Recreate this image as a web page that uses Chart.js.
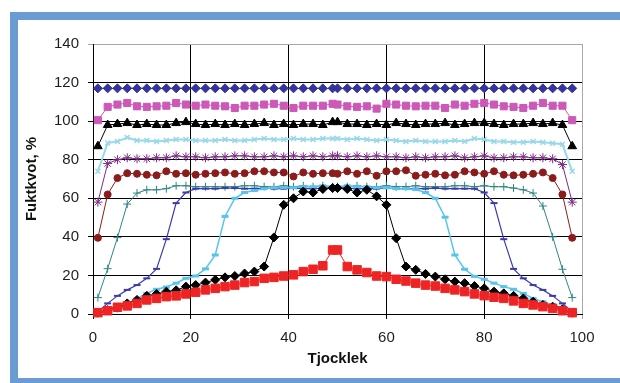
<!DOCTYPE html>
<html>
<head>
<meta charset="utf-8">
<script src="https://cdn.jsdelivr.net/npm/chart.js@4.4.0/dist/chart.umd.min.js"></script>
<style>
    html, body { margin: 0; padding: 0; width: 620px; height: 383px; overflow: hidden; background: #fff; }
    #frame {
        position: absolute; left: 10px; top: 12px; width: 660px; height: 374px;
        box-sizing: border-box; border: 8px solid #6a9bd2; background: #fff;
    }
    #wrap { position: absolute; left: 0; top: 0; width: 620px; height: 383px; }
</style>
</head>
<body>
<div id="frame"></div>
<div id="wrap"><canvas id="moistChart" width="620" height="383"></canvas></div>
<script>
// Thickness positions (x) shared by all series
const thickness = [1, 3, 5, 7, 9, 11, 13, 15, 17, 19, 21, 23, 25, 27, 29, 31, 33, 35, 37, 39, 41, 43, 45, 47, 49,
    50, 52, 54, 56, 58, 60, 62, 64, 66, 68, 70, 72, 74, 76, 78, 80, 82, 84, 86, 88, 90, 92, 94, 96, 98];

const xTicks = [0, 20, 40, 60, 80, 100];
const yTicks = [0, 20, 40, 60, 80, 100, 120, 140];

// Moisture ratio (%) per curve
const navySeries = [117, 117, 117, 117, 117, 117, 117, 117, 117, 117, 117, 117, 117, 117, 117, 117, 117, 117, 117, 117, 117, 117, 117, 117, 117,
    117, 117, 117, 117, 117, 117, 117, 117, 117, 117, 117, 117, 117, 117, 117, 117, 117, 117, 117, 117, 117, 117, 117, 117, 117];
const magentaSeries = [100.5, 107.4, 108.6, 109.4, 107.7, 107.4, 107.7, 108, 109.4, 108.6, 108, 108.6, 108, 107.7, 106.8, 108, 108, 108.6, 109, 108, 106.8, 108, 108, 108, 109,
    108.6, 107.7, 107.4, 107.7, 106.5, 109, 108.6, 108, 107.7, 108, 108, 106.8, 108.6, 108, 109, 109.4, 108.6, 107.7, 107.4, 106.8, 108, 109.4, 108, 108, 100.5];
const triangleSeries = [87, 98, 98.5, 99, 98, 98.5, 98, 98, 99, 99.5, 98.5, 98, 98.5, 98, 98.5, 98, 98.5, 99, 98, 98.5, 98, 98.5, 98.5, 98, 99.5,
    99.5, 98.5, 98.5, 98, 98.5, 98, 99, 98.5, 98, 98.5, 98.5, 99, 98, 98.5, 99, 99, 98.5, 98, 98.5, 98.5, 99, 98.5, 99, 98, 87];
const cyanSeries = [74, 88.7, 89.5, 91.5, 90, 90, 89.5, 90, 90.5, 90.5, 90, 90, 90, 90.5, 90, 90, 90.5, 91, 90.5, 90.5, 91, 90.5, 90.5, 91, 91,
    91, 90.5, 91, 90.5, 90, 90.5, 90, 89.5, 90, 89.5, 89.5, 89.5, 90, 89.5, 91, 90.5, 89.5, 89.5, 89, 89, 89.5, 89, 88.5, 88, 74];
const purpleSeries = [58, 78, 80, 81, 80.5, 80.5, 81, 81, 82, 81.5, 81.5, 81, 81.5, 81.5, 82, 82, 81.5, 81.5, 82, 81.5, 82, 81.5, 82, 81.5, 82,
    82, 81.5, 82, 81.5, 82, 81.5, 81.5, 81, 81.5, 81, 81.5, 81.5, 82, 81, 81.5, 82, 81, 81, 81.5, 81.5, 81, 81, 80.5, 77.5, 58];
const maroonSeries = [39.5, 62, 70.5, 73, 72.7, 72.2, 71.9, 74, 72.7, 73, 72.2, 72.7, 73, 73.4, 72.7, 73, 74, 74, 73.4, 73.4, 71.3, 73.4, 72.7, 73, 73,
    72.7, 74, 72.7, 74, 71.7, 74, 74, 74.5, 71.7, 72.2, 72.7, 71.9, 72.2, 74, 73.4, 72.7, 74, 72.2, 71.9, 72.2, 72.7, 73.4, 70.5, 62, 39.5];
const tealSeries = [8.5, 23.5, 39.6, 57, 62.7, 64.4, 64.4, 65, 66.5, 66.5, 66, 66, 66, 66, 66, 66.5, 66.5, 66, 66, 66.5, 66, 66.5, 66, 66.5, 66,
    66, 66, 66.5, 66, 66, 66.5, 66, 66, 66.5, 66, 66, 66, 66.5, 66.5, 66, 66.5, 66, 66, 65.3, 64.4, 62.7, 56, 40, 23.2, 8.5];
const blueSeries = [1.2, 5.5, 9.4, 12.5, 15, 18.5, 23.4, 38.8, 57.5, 63, 65, 65, 65, 65.3, 65.3, 65, 65, 65.3, 65, 65, 65.3, 65, 65, 65.3, 65.5,
    65.5, 65.3, 65, 65, 65, 65.3, 65, 65, 65, 65, 65.3, 65, 65, 65, 65, 63, 57.5, 38.8, 23.4, 18.5, 15, 12.5, 9.4, 5.5, 1.2];
const skySeries = [0.7, 2, 4, 5.5, 8, 10.7, 12.8, 14, 16, 18.5, 19.7, 23.4, 30.6, 50.6, 60, 63, 64, 65, 65.5, 65.5, 65.5, 66, 66, 66.5, 66,
    66, 66.5, 66, 66, 65.5, 65.5, 65, 65, 64.5, 63, 60, 50.2, 30.6, 23.2, 19.5, 18, 16, 14.2, 12.8, 10.7, 8.1, 6.4, 4.7, 2.4, 0.7];
const diamondSeries = [0.7, 2, 3.3, 5.5, 7.3, 9.4, 10.4, 11.6, 12.3, 14.2, 15, 16.3, 17.7, 19, 19.7, 21, 22, 24.6, 39.7, 56.6, 60, 63.5, 63, 64.8, 65.3,
    65.3, 64.8, 63, 64.4, 61, 56.6, 39.3, 24.6, 22.9, 20.8, 19.4, 18, 16.8, 16, 14.5, 13.3, 11.6, 10.7, 9.4, 8.1, 6.4, 4.7, 3.8, 2.4, 0.7];
const redSeries = [0.7, 1.7, 3.5, 4.2, 5.5, 7.3, 8.1, 9, 9.4, 10.4, 11.3, 12.5, 13.3, 14.2, 15, 16.3, 16.8, 18.5, 19, 19.7, 20.3, 22, 23.2, 25, 33.2,
    33.2, 24.6, 22.9, 21.5, 19.7, 19.4, 18, 17.1, 16, 15, 14.5, 13.3, 12.5, 11.6, 10.4, 9.5, 8.7, 8.1, 6.8, 5.5, 4.7, 3.8, 2.9, 1.7, 0.7];

document.addEventListener('DOMContentLoaded', function() {
    const toPoints = values => values.map((v, i) => ({x: thickness[i], y: v}));

    // one entry per curve: values, colour, marker, marker radius, line width, marker border
    const curves = [
        [navySeries, '#34349a', 'rectRot', 4.5, 1, 1],
        [magentaSeries, '#cc58b8', 'rect', 5, 1, 1],
        [triangleSeries, '#000000', 'triangle', 5, 1, 1],
        [cyanSeries, '#98d8ea', 'crossRot', 3.5, 2, 1.5],
        [purpleSeries, '#7e2a86', 'star', 4.5, 1, 1],
        [maroonSeries, '#8c1c1c', 'circle', 3.5, 1, 1],
        [tealSeries, '#2e8585', 'cross', 4, 1, 1],
        [blueSeries, '#3b3bab', 'line', 3.5, 1.2, 2],
        [skySeries, '#58c4ee', 'line', 3.5, 1.5, 3],
        [diamondSeries, '#000000', 'rectRot', 4.5, 1, 1],
        [redSeries, '#ee2424', 'rect', 6, 1, 1]
    ];

    const datasets = curves.map((c, i) => ({
        data: toPoints(c[0]),
        borderColor: c[1],
        backgroundColor: c[1],
        pointBackgroundColor: c[1],
        pointBorderColor: c[1],
        pointStyle: c[2],
        pointRadius: c[3],
        borderWidth: c[4],
        pointBorderWidth: c[5],
        tension: 0,
        clip: false,
        order: curves.length - i
    }));

    const font = {family: '"Liberation Sans", Arial, sans-serif', size: 15};
    const titleFont = {family: '"Liberation Sans", Arial, sans-serif', size: 15, weight: 'bold'};

    const ctx = document.getElementById('moistChart').getContext('2d');
    const moistChart = new Chart(ctx, {
        type: 'line',
        data: { datasets: datasets },
        options: {
            responsive: false,
            animation: false,
            layout: { padding: { left: 20, right: 38, top: 44, bottom: 12 } },
            plugins: { legend: { display: false }, tooltip: { enabled: false } },
            scales: {
                x: {
                    type: 'linear',
                    min: 0,
                    max: 100,
                    afterBuildTicks: scale => { scale.ticks = xTicks.map(v => ({value: v})); },
                    afterFit: scale => { scale.height = 57; },
                    grid: {
                        color: c => c.tick && c.tick.value === 100 ? '#a8a8a8' : '#000',
                        lineWidth: 1,
                        tickLength: 5
                    },
                    border: { color: '#000', width: 1 },
                    ticks: { color: '#1e1e1e', font: font, padding: 10, maxRotation: 0 },
                    title: { display: true, text: 'Tjocklek', color: '#111', font: titleFont, padding: { top: 0, bottom: 3 } }
                },
                y: {
                    min: 0,
                    max: 140,
                    afterBuildTicks: scale => { scale.ticks = yTicks.map(v => ({value: v})); },
                    afterFit: scale => { scale.width = 73; },
                    grid: {
                        color: c => c.tick && c.tick.value === 140 ? '#a8a8a8' : '#000',
                        lineWidth: 1,
                        tickLength: 5
                    },
                    border: { color: '#000', width: 1 },
                    ticks: { color: '#1e1e1e', font: font, padding: 9 },
                    title: { display: true, text: 'Fuktkvot, %', color: '#111', font: titleFont, padding: { top: 3, bottom: 0 } }
                }
            }
        }
    });
});
</script>
</body>
</html>
